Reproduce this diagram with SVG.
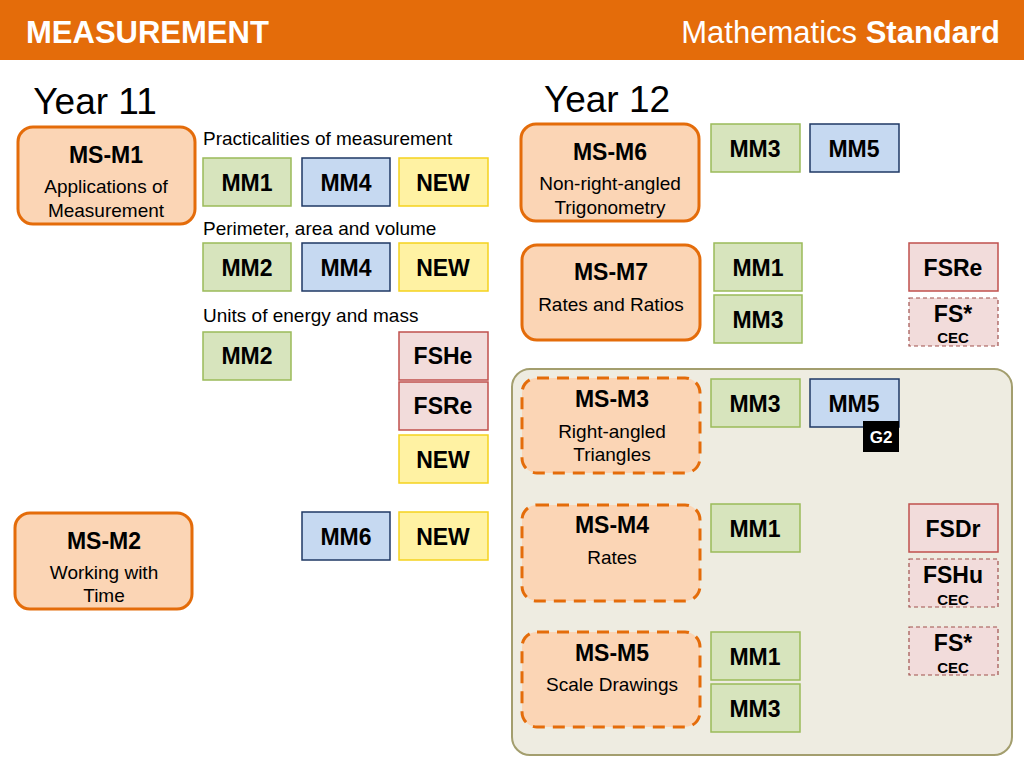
<svg xmlns="http://www.w3.org/2000/svg" width="1024" height="768" viewBox="0 0 1024 768">
<style>
text{font-family:"Liberation Sans",Arial,sans-serif;text-anchor:middle}
.b{font-weight:bold;font-size:23px}
.g{fill:#D7E4BD;stroke:#9BBB59;stroke-width:1.5}
.bl{fill:#C6D9F1;stroke:#1F3864;stroke-width:1.5}
.y{fill:#FFF2A3;stroke:#F5D21E;stroke-width:1.5}
.p{fill:#F2DCDB;stroke:#C0504D;stroke-width:1.5}
.pd{fill:#F2DCDB;stroke:#A0504D;stroke-width:1.2;stroke-dasharray:4 3}
.o{fill:#FBD5B5;stroke:#E46C0A;stroke-width:3}
.od{fill:#FBD5B5;stroke:#E46C0A;stroke-width:3;stroke-dasharray:12 8}
.t{font-size:19px}
.s{font-size:19px;text-anchor:start}
.c{font-weight:bold;font-size:15px}
</style>
<rect x="0" y="0" width="1024" height="60" fill="#E46C0A"/>
<text x="26" y="43" style="text-anchor:start;font-weight:bold;font-size:31px" fill="#fff">MEASUREMENT</text>
<text x="1000" y="43" style="text-anchor:end;font-size:31px" fill="#fff">Mathematics <tspan font-weight="bold">Standard</tspan></text>
<text x="95" y="114" style="font-size:37px">Year 11</text>
<text x="607" y="112" style="font-size:37px">Year 12</text>
<rect x="512" y="369" width="500" height="386" rx="18" fill="#EEECE1" stroke="#A39E6E" stroke-width="2"/>
<g id="connectors"></g>
<g id="msm1"><rect class="o" x="18" y="127" width="177" height="97" rx="15"/><text class="b" x="106" y="163">MS-M1</text><text class="t" x="106" y="193">Applications of</text><text class="t" x="106" y="217">Measurement</text></g>
<text class="s" x="203" y="145">Practicalities of measurement</text>
<text class="s" x="203" y="235">Perimeter, area and volume</text>
<text class="s" x="203" y="322">Units of energy and mass</text>
<g id="r1a"><rect class="g" x="203" y="158" width="88" height="48"/><text class="b" x="247" y="191">MM1</text></g>
<g id="r1b"><rect class="bl" x="302" y="158" width="88" height="48"/><text class="b" x="346" y="191">MM4</text></g>
<g id="r1c"><rect class="y" x="399" y="158" width="89" height="48"/><text class="b" x="443" y="191">NEW</text></g>
<g id="r2a"><rect class="g" x="203" y="243" width="88" height="48"/><text class="b" x="247" y="276">MM2</text></g>
<g id="r2b"><rect class="bl" x="302" y="243" width="88" height="48"/><text class="b" x="346" y="276">MM4</text></g>
<g id="r2c"><rect class="y" x="399" y="243" width="89" height="48"/><text class="b" x="443" y="276">NEW</text></g>
<g id="r3a"><rect class="g" x="203" y="332" width="88" height="48"/><text class="b" x="247" y="364">MM2</text></g>
<g id="r3b"><rect class="p" x="399" y="332" width="89" height="48"/><text class="b" x="443" y="364">FSHe</text></g>
<g id="r3c"><rect class="p" x="399" y="382" width="89" height="48"/><text class="b" x="443" y="414">FSRe</text></g>
<g id="r3d"><rect class="y" x="399" y="435" width="89" height="48"/><text class="b" x="443" y="468">NEW</text></g>
<g id="msm2"><rect class="o" x="15" y="513" width="177" height="96" rx="15"/><text class="b" x="104" y="549">MS-M2</text><text class="t" x="104" y="579">Working with</text><text class="t" x="104" y="602">Time</text></g>
<g id="r4a"><rect class="bl" x="302" y="512" width="88" height="48"/><text class="b" x="346" y="545">MM6</text></g>
<g id="r4b"><rect class="y" x="399" y="512" width="89" height="48"/><text class="b" x="443" y="545">NEW</text></g>
<g id="msm6"><rect class="o" x="521" y="124" width="178" height="97" rx="15"/><text class="b" x="610" y="160">MS-M6</text><text class="t" x="610" y="190">Non-right-angled</text><text class="t" x="610" y="214">Trigonometry</text></g>
<g id="m6a"><rect class="g" x="711" y="124" width="89" height="48"/><text class="b" x="755" y="157">MM3</text></g>
<g id="m6b"><rect class="bl" x="810" y="124" width="89" height="48"/><text class="b" x="854" y="157">MM5</text></g>
<g id="msm7"><rect class="o" x="522" y="245" width="178" height="95" rx="15"/><text class="b" x="611" y="280">MS-M7</text><text class="t" x="611" y="311">Rates and Ratios</text></g>
<g id="m7a"><rect class="g" x="714" y="243" width="88" height="48"/><text class="b" x="758" y="276">MM1</text></g>
<g id="m7b"><rect class="g" x="714" y="295" width="88" height="48"/><text class="b" x="758" y="328">MM3</text></g>
<g id="m7c"><rect class="p" x="909" y="243" width="89" height="48"/><text class="b" x="953" y="276">FSRe</text></g>
<g id="m7d"><rect class="pd" x="909" y="298" width="89" height="48"/><text class="b" x="953" y="322">FS*</text><text class="c" x="953" y="343">CEC</text></g>
<g id="msm3"><rect class="od" x="522" y="378" width="178" height="95" rx="15"/><text class="b" x="612" y="407">MS-M3</text><text class="t" x="612" y="438">Right-angled</text><text class="t" x="612" y="461">Triangles</text></g>
<g id="m3a"><rect class="g" x="711" y="379" width="89" height="48"/><text class="b" x="755" y="412">MM3</text></g>
<g id="m3b"><rect class="bl" x="810" y="379" width="89" height="48"/><text class="b" x="854" y="412">MM5</text><rect x="863" y="421" width="36" height="31" fill="#000"/><text x="881" y="443" fill="#fff" style="font-weight:bold;font-size:17px">G2</text></g>
<g id="msm4"><rect class="od" x="522" y="505" width="178" height="96" rx="15"/><text class="b" x="612" y="533">MS-M4</text><text class="t" x="612" y="564">Rates</text></g>
<g id="m4a"><rect class="g" x="711" y="504" width="89" height="48"/><text class="b" x="755" y="537">MM1</text></g>
<g id="m4b"><rect class="p" x="909" y="504" width="89" height="48"/><text class="b" x="953" y="537">FSDr</text></g>
<g id="m4c"><rect class="pd" x="909" y="559" width="89" height="48"/><text class="b" x="953" y="583">FSHu</text><text class="c" x="953" y="605">CEC</text></g>
<g id="msm5"><rect class="od" x="522" y="632" width="178" height="95" rx="15"/><text class="b" x="612" y="661">MS-M5</text><text class="t" x="612" y="691">Scale Drawings</text></g>
<g id="m5a"><rect class="g" x="711" y="632" width="89" height="48"/><text class="b" x="755" y="665">MM1</text></g>
<g id="m5b"><rect class="g" x="711" y="684" width="89" height="48"/><text class="b" x="755" y="717">MM3</text></g>
<g id="m5c"><rect class="pd" x="909" y="627" width="89" height="48"/><text class="b" x="953" y="651">FS*</text><text class="c" x="953" y="673">CEC</text></g>
</svg>
